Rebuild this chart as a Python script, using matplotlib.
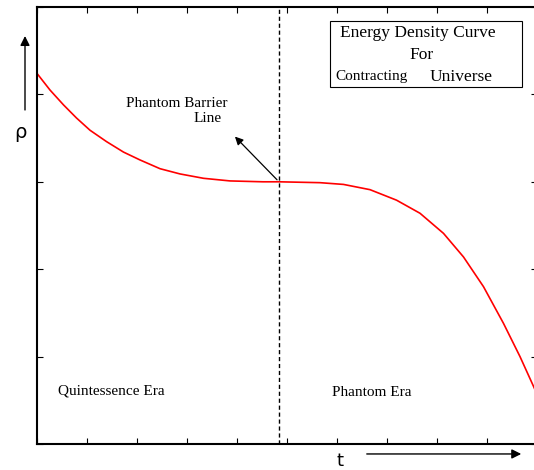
import matplotlib
matplotlib.use("Agg")
import matplotlib.pyplot as plt
from matplotlib.patches import Rectangle

# energy density curve
t_vals = [0.0, 0.26, 0.53, 0.79, 1.06, 1.39, 1.73, 2.06, 2.46, 2.86, 3.33,
          3.86, 4.52, 4.84, 5.66, 6.13, 6.66, 7.19, 7.66, 8.13, 8.53, 8.93,
          9.33, 9.66, 9.93, 10.0]
rho_vals = [4.24, 4.05, 3.88, 3.73, 3.59, 3.46, 3.34, 3.25, 3.15, 3.09, 3.04,
            3.01, 3.00, 3.00, 2.99, 2.97, 2.91, 2.79, 2.64, 2.41, 2.14, 1.80,
            1.38, 1.00, 0.66, 0.57]

t_barrier = 4.84
x_ticks = list(range(0, 11))
y_ticks = list(range(0, 6))

serif = "Liberation Serif"

fig = plt.figure(figsize=(5.34, 4.70), dpi=100)
ax = fig.add_axes([37 / 534, 26 / 470, 500 / 534, 437 / 470])

ax.plot(t_vals, rho_vals, color="red", lw=1.2)
ax.axvline(t_barrier, color="black", ls=(0, (3, 2)), lw=1.0)

ax.set_xlim(0, 10)
ax.set_ylim(0, 5)
ax.set_xticks(x_ticks)
ax.set_yticks(y_ticks)
ax.tick_params(direction="in", length=4, width=0.8, top=True, right=True,
               labelbottom=False, labelleft=False)
for side in ["left", "bottom", "top"]:
    ax.spines[side].set_linewidth(1.5)
ax.spines["right"].set_visible(False)

# annotations
ax.annotate("", xy=(3.92, 3.54), xytext=(t_barrier, 3.0),
            arrowprops=dict(arrowstyle="-|>", color="black", lw=0.9,
                            mutation_scale=12))
ax.text(2.8, 3.90, "Phantom Barrier", family=serif, fontsize=11,
        ha="center", va="center")
ax.text(3.41, 3.72, "Line", family=serif, fontsize=11,
        ha="center", va="center")

ax.add_patch(Rectangle((5.86, 4.08), 3.84, 0.76, fill=False,
                       edgecolor="black", lw=0.8))
ax.text(7.62, 4.70, "Energy Density Curve", family=serif, fontsize=12.5,
        ha="center", va="center")
ax.text(7.7, 4.45, "For", family=serif, fontsize=12.5,
        ha="center", va="center")
ax.text(6.7, 4.21, "Contracting", family=serif, fontsize=11,
        ha="center", va="center")
ax.text(8.48, 4.20, "Universe", family=serif, fontsize=12.5,
        ha="center", va="center")

ax.text(1.48, 0.61, "Quintessence Era", family=serif, fontsize=11,
        ha="center", va="center")
ax.text(6.7, 0.59, "Phantom Era", family=serif, fontsize=11,
        ha="center", va="center")

# axis arrows outside the frame
ax.annotate("", xy=(-0.24, 4.70), xytext=(-0.24, 3.79),
            arrowprops=dict(arrowstyle="-|>", color="black", lw=1.0,
                            mutation_scale=14), annotation_clip=False)
ax.text(-0.34, 3.56, "ρ", fontsize=14, ha="center", va="center")
ax.annotate("", xy=(9.74, -0.114), xytext=(6.54, -0.114),
            arrowprops=dict(arrowstyle="-|>", color="black", lw=1.0,
                            mutation_scale=14), annotation_clip=False)
ax.text(6.06, -0.195, "t", fontsize=13, ha="center", va="center")

fig.savefig("out.png", dpi=100)
